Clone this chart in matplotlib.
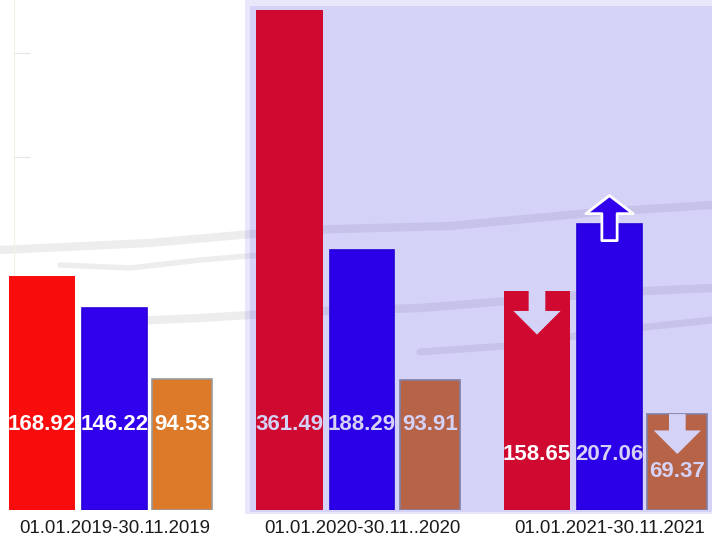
import numpy as np
import matplotlib
matplotlib.use("Agg")
import matplotlib.pyplot as plt
from matplotlib.patches import Rectangle
from matplotlib.text import OffsetFrom

plt.rcParams['font.family'] = ['Liberation Sans', 'DejaVu Sans']

# data
periods = ['01.01.2019-30.11.2019', '01.01.2020-30.11..2020', '01.01.2021-30.11.2021']
series_a = [168.92, 361.49, 158.65]
series_b = [146.22, 188.29, 207.06]
series_c = [94.53, 93.91, 69.37]

red = '#f80c0c'
blue = '#3100ec'
orange = '#dc7a2a'
shade = '#1100d7'

W, H = 712, 537
fig = plt.figure(figsize=(W / 100, H / 100), dpi=100)
ax = fig.add_axes([0, 27 / H, 1, 510 / H])
ax.set_xlim(-114.5 / 247.5, (W - 114.5) / 247.5)
ax.set_ylim(0, 361.49 * 510 / 500)

x = np.arange(len(periods))

# faint brush-stroke texture in the background
def px(pts):
    return [p[0] / W for p in pts], [(510 - p[1]) / 510 for p in pts]

strokes = [
    ([(0, 250), (150, 243), (240, 235), (300, 230), (450, 226), (600, 212), (712, 205)], 6),
    ([(60, 265), (130, 268), (200, 260), (260, 255)], 4),
    ([(110, 322), (200, 318), (300, 312), (420, 308), (520, 300), (620, 292), (712, 288)], 6),
    ([(420, 352), (520, 345), (600, 332), (712, 320)], 5),
]
for pts, lw in strokes:
    sx, sy = px(pts)
    ax.plot(sx, sy, transform=ax.transAxes, color='#7a7a7a', alpha=0.13,
            lw=lw, solid_capstyle='round', zorder=0.5)

bars_a = ax.bar(x - 0.293, series_a, width=0.27, color=red, zorder=2)
bars_b = ax.bar(x, series_b, width=0.26, color=blue, edgecolor='#2a00d8', lw=1.2, zorder=2)
bars_c = ax.bar(x + 0.274, series_c, width=0.243, color=orange, edgecolor='#9a9a9a', lw=1.2, zorder=2)

# value labels (fixed height inside bars)
lab_y = [61.5, 61.5, 39.8]
for i in range(3):
    ax.text(x[i] - 0.293, lab_y[i], f'{series_a[i]:.2f}', ha='center', va='center',
            color='white', fontsize=16, fontweight='bold', zorder=6 if i == 2 else 4)
    ax.text(x[i], lab_y[i], f'{series_b[i]:.2f}', ha='center', va='center',
            color='white', fontsize=16, fontweight='bold', zorder=4)
    ax.text(x[i] + 0.274, lab_y[i] - (12 if i == 2 else 0), f'{series_c[i]:.2f}',
            ha='center', va='center', color='white', fontsize=16, fontweight='bold', zorder=4)

# trend arrows on the last period
def arrow(bar, y_tail, y_tip, fc, ec, lw, z, hw=34, hl=17, tw=12):
    ref = OffsetFrom(bar, (0.5, 1.0), unit='points')
    ax.annotate('', xy=(0, y_tip * 0.72), xycoords=ref,
                xytext=(0, y_tail * 0.72), textcoords=ref,
                arrowprops=dict(arrowstyle=f'simple,head_length={hl},head_width={hw},tail_width={tw}',
                                mutation_scale=1, fc=fc, ec=ec, lw=lw,
                                shrinkA=0, shrinkB=0, joinstyle='round'),
                zorder=z)

arrow(bars_a[2], 0, -44, 'white', 'none', 0, 4)
arrow(bars_b[2], -17, 28, blue, 'white', 2.0, 6, hw=34, hl=13, tw=11)
arrow(bars_c[2], 0, -40, 'white', 'none', 0, 4)

# translucent highlight over the last two periods
ax.add_patch(Rectangle((245 / W, (H - 514) / H), (W - 245) / W, 514 / H,
                       transform=fig.transFigure, facecolor=shade, alpha=0.09,
                       lw=0, clip_on=False, zorder=5))
ax.add_patch(Rectangle((250 / W, (H - 512) / H), (W - 250) / W, 506 / H,
                       transform=fig.transFigure, facecolor=shade, alpha=0.093,
                       lw=0, clip_on=False, zorder=5))

# axes styling
for s in ['top', 'right', 'bottom']:
    ax.spines[s].set_visible(False)
ax.spines['left'].set_position(('data', (14 - 114.5) / 247.5))
ax.spines['left'].set_color('#f4efe8')
ax.spines['left'].set_zorder(1)
ax.set_yticks([255, 330.5])
ax.tick_params(axis='y', direction='in', length=11.5, color='#e6e6e6', labelleft=False)
ax.set_xticks(x)
ax.set_xticklabels(periods, fontsize=13.4, color='#1a1a1a')
ax.tick_params(axis='x', length=0, pad=7)
ax.patch.set_visible(False)

fig.savefig('out.png', dpi=100)
